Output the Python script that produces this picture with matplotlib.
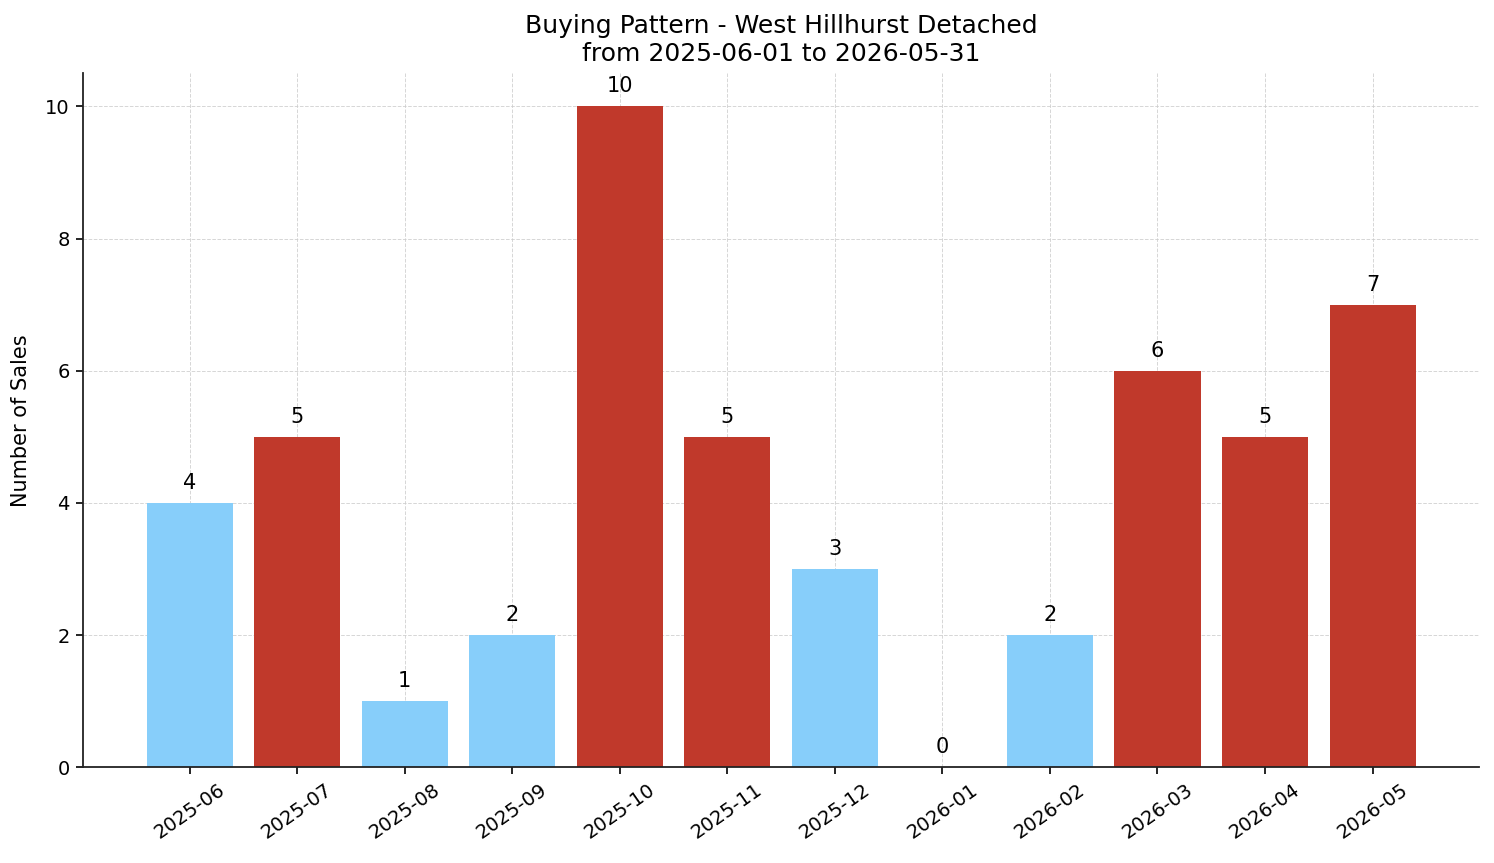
import matplotlib
matplotlib.use('Agg')
import matplotlib.pyplot as plt
import numpy as np

months = ['2025-06', '2025-07', '2025-08', '2025-09', '2025-10', '2025-11',
          '2025-12', '2026-01', '2026-02', '2026-03', '2026-04', '2026-05']
sales = [4, 5, 1, 2, 10, 5, 3, 0, 2, 6, 5, 7]

# above-average months in red, the rest light blue
avg = np.mean(sales)
colors = ['#c0392b' if s > avg else '#87cefa' for s in sales]

fig, ax = plt.subplots(figsize=(14.94, 8.63), dpi=100)
x = np.arange(len(months))
bars = ax.bar(x, sales, color=colors, width=0.8, zorder=2)

for b, s in zip(bars, sales):
    ax.text(b.get_x() + b.get_width() / 2, b.get_height() + 0.15, str(s),
            ha='center', va='bottom', fontsize=15)

ax.set_xticks(x)
ax.set_xticklabels(months, rotation=35, fontsize=14)
ax.tick_params(axis='y', labelsize=14)
ax.tick_params(length=5, width=1.2, pad=4.5)
ax.set_ylabel('Number of Sales', fontsize=15, labelpad=10)
ax.set_title('Buying Pattern - West Hillhurst Detached\nfrom 2025-06-01 to 2026-05-31',
             fontsize=18, pad=9)
ax.grid(True, linestyle='--', color='#cccccc', alpha=0.8, linewidth=0.7, zorder=0)
ax.spines['top'].set_visible(False)
ax.spines['right'].set_visible(False)
for sp in ['left', 'bottom']:
    ax.spines[sp].set_linewidth(1.3)
    ax.spines[sp].set_color('#222222')

plt.subplots_adjust(left=0.0556, right=0.99, top=0.915, bottom=0.111)
plt.savefig('out.png', dpi=100)
